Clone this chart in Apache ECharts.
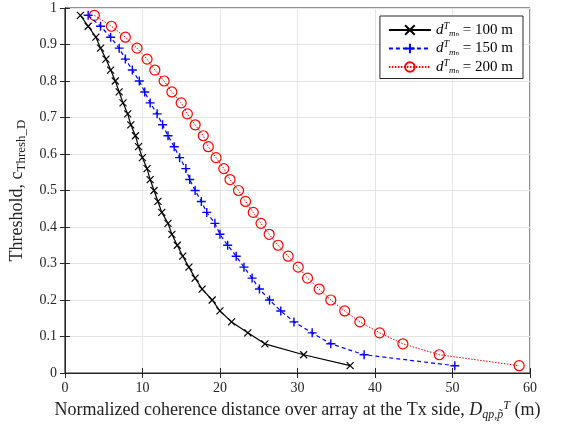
<!DOCTYPE html>
<html>
<head>
<meta charset="utf-8">
<script src="https://cdn.jsdelivr.net/npm/echarts@6/dist/echarts.min.js"></script>
<style>html,body{margin:0;padding:0;background:#fff}#c{width:561px;height:426px}</style>
</head>
<body>
<div id="c"></div>
<script>
// Threshold values (shared by all series)
var thresh = [0.98,0.95,0.92,0.89,0.86,0.83,0.80,0.77,0.74,0.71,0.68,0.65,0.62,0.59,0.56,0.53,0.50,0.47,0.44,0.41,0.38,0.35,0.32,0.29,0.26,0.23,0.20,0.17,0.14,0.11,0.08,0.05,0.02];
// Normalized coherence distance for d = 100 m
var dist100 = [2.0,3.0,4.0,4.6,5.3,5.9,6.5,7.0,7.5,8.1,8.5,9.1,9.5,10.0,10.6,11.0,11.5,12.0,12.5,13.3,13.8,14.5,15.2,16.0,16.8,17.7,19.0,20.0,21.5,23.6,25.8,30.8,36.8];
// d = 150 m
var dist150 = [3.0,4.6,5.9,7.0,7.8,8.7,9.6,10.3,11.0,11.9,12.6,13.3,14.1,14.8,15.6,16.1,16.8,17.6,18.3,19.35,20.0,21.0,22.1,23.1,24.15,25.1,26.4,27.85,29.55,31.9,34.3,38.6,50.3];
// d = 200 m
var dist200 = [3.8,6.0,7.8,9.3,10.6,11.6,12.8,13.8,15.0,15.8,16.8,17.85,18.5,19.5,20.5,21.3,22.4,23.3,24.3,25.3,26.35,27.5,28.8,30.1,31.3,32.8,34.3,36.1,38.05,40.6,43.6,48.3,58.6];
var seriesNames = ['100', '150', '200'];
var xTicks = [0,10,20,30,40,50,60];
var yTicks = [0,0.1,0.2,0.3,0.4,0.5,0.6,0.7,0.8,0.9,1];

function pairs(xs, ys){ return xs.map(function(x,i){return [x, ys[i]];}); }

var FONT = '"Liberation Serif", "DejaVu Serif", serif';
var chart = echarts.init(document.getElementById('c'), null, {renderer:'canvas'});

var rich = {
  it: {fontFamily: FONT, fontStyle:'italic', fontSize:18, color:'#222'},
  sub: {fontFamily: FONT, fontStyle:'italic', fontSize:12, color:'#222', padding:[9,0,0,0]},
  sup: {fontFamily: FONT, fontStyle:'italic', fontSize:12, color:'#222', padding:[0,0,9,0]},
  rm: {fontFamily: FONT, fontSize:18, color:'#222'},
  rsub: {fontFamily: FONT, fontSize:13, color:'#222', padding:[10,0,0,0]}
};
var lrich = {
  it: {fontFamily: FONT, fontStyle:'italic', fontSize:15, color:'#000'},
  sub: {fontFamily: FONT, fontStyle:'italic', fontSize:9, color:'#000', padding:[8,0,0,0]},
  sup: {fontFamily: FONT, fontStyle:'italic', fontSize:10, color:'#000', padding:[0,0,8,0]},
  rm: {fontFamily: FONT, fontSize:15, color:'#000'}
};

var gridColor = '#e3e3e3';
var option = {
  animation: false,
  backgroundColor: '#fff',
  grid: {left: 63, right: 31, top: 8, bottom: 50, show: true, borderColor: '#262626', borderWidth: 1},
  legend: {
    orient: 'vertical', right: 38, top: 16,
    backgroundColor: '#fff', borderColor: '#262626', borderWidth: 1,
    padding: [5, 10, 3, 8], itemGap: 1, itemWidth: 42, itemHeight: 12,
    data: seriesNames.map(function(n){return 'd' + n;}),
    formatter: function(name){
      var v = name.slice(1);
      return '{it|d}{sup|T}{sub|mₙ}{rm| = ' + v + ' m}';
    },
    textStyle: {rich: lrich, fontFamily: FONT, fontSize: 15}
  },
  xAxis: [{
    type: 'value', min: 0, max: 60, interval: 10,
    axisLine: {show: true, lineStyle: {color: '#262626'}},
    axisTick: {inside: true, length: 5, lineStyle: {color: '#262626'}},
    axisLabel: {fontFamily: FONT, fontSize: 14, color: '#262626', margin: 8},
    splitLine: {show: true, lineStyle: {color: gridColor, width: 1}},
    name: 'Normalized coherence distance over array at the Tx side, {it|D}{sub|qp,p̃}{sup|T} {rm|(m)}',
    nameLocation: 'middle', nameGap: 27,
    nameTextStyle: {fontFamily: FONT, fontSize: 18, color: '#222', rich: rich}
  },{
    type: 'value', min: 0, max: 60, interval: 10, position: 'top',
    axisLine: {show: true, lineStyle: {color: '#262626'}},
    axisTick: {inside: true, length: 5, lineStyle: {color: '#262626'}},
    axisLabel: {show: false}, splitLine: {show: false}
  }],
  yAxis: [{
    type: 'value', min: 0, max: 1, interval: 0.1,
    axisLine: {show: true, lineStyle: {color: '#262626'}},
    axisTick: {inside: true, length: 5, lineStyle: {color: '#262626'}},
    axisLabel: {fontFamily: FONT, fontSize: 14, color: '#262626', margin: 8},
    splitLine: {show: true, lineStyle: {color: gridColor, width: 1}},
    name: '{rm|Threshold, c}{rsub|Thresh_D}',
    nameLocation: 'middle', nameGap: 25,
    nameTextStyle: {fontFamily: FONT, fontSize: 18, color: '#222', rich: rich}
  },{
    type: 'value', min: 0, max: 1, interval: 0.1, position: 'right',
    axisLine: {show: true, lineStyle: {color: '#262626'}},
    axisTick: {inside: true, length: 5, lineStyle: {color: '#262626'}},
    axisLabel: {show: false}, splitLine: {show: false}
  }],
  series: [
    {
      name: 'd100', type: 'line', data: pairs(dist100, thresh),
      symbol: 'path://M0,0L10,10M0,10L10,0', symbolSize: 7,
      lineStyle: {color: '#000', width: 1.2, type: 'solid'},
      itemStyle: {color: '#000', borderColor: '#000', borderWidth: 1.2},
      z: 4
    },
    {
      name: 'd150', type: 'line', data: pairs(dist150, thresh),
      symbol: 'path://M5,0L5,10M0,5L10,5', symbolSize: 9,
      lineStyle: {color: '#0000ff', width: 1.2, type: [4, 3]},
      itemStyle: {color: '#0000ff', borderColor: '#0000ff', borderWidth: 1.4},
      z: 3
    },
    {
      name: 'd200', type: 'line', data: pairs(dist200, thresh),
      symbol: 'circle', symbolSize: 10,
      lineStyle: {color: '#ff0000', width: 1, type: [1.5, 1.5]},
      itemStyle: {color: 'rgba(255,255,255,0)', borderColor: '#ff0000', borderWidth: 1.2},
      z: 2
    }
  ]
};
chart.setOption(option);
</script>
</body>
</html>
